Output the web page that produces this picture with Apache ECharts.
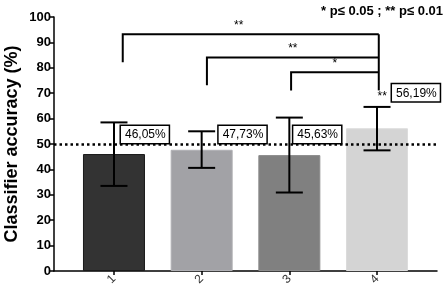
<!DOCTYPE html>
<head>
    <meta charset="utf-8">
    <script type="text/javascript" src="https://cdn.jsdelivr.net/npm/echarts@6/dist/echarts.min.js"></script>
</head>
<body style="margin:0">
	<div id="main" style="width:447px; height:295px"></div>
	<script type="text/javascript">
		var categories = ['1', '2', '3', '4'];
		var accuracy = [46.05, 47.73, 45.63, 56.19];
		var errLow = [33.5, 40.6, 30.9, 47.5];
		var errHigh = [58.5, 55.0, 60.4, 64.6];
		var valueLabels = ['46,05%', '47,73%', '45,63%', '56,19%'];
		var labelBase = [50, 50, 50, 66.4];
		var chance = 50;
		// comparisons: [from, to, bracket height, leg bottom, stars]
		var comparisons = [
			[1, 4, 93.2, 82.2, '**'],
			[2, 4, 84.1, 73.1, '**'],
			[3, 4, 78.2, 71.1, '*']
		];

		var barColors = ['#333333', '#a2a2a6', '#808080', '#d4d4d4'];
		var barBorders = ['#1a1a1a', '#b0b0b4', '#8c8c8c', '#dcdcdc'];
		var labelOffsets = [7, 17, 4, 15];
		var font = '"Liberation Sans", Arial, sans-serif';

		var barData = [], errData = [], labData = [];
		for (var i = 0; i < categories.length; i++) {
			barData.push({value: [i + 1, accuracy[i]], itemStyle: {color: barColors[i], borderColor: barBorders[i], borderWidth: 1}});
			errData.push([i + 1, errLow[i], errHigh[i]]);
			labData.push([i + 1, labelBase[i], i]);
		}

		var myChart = echarts.init(document.getElementById('main'));
		var option = {
			animation: false,
			textStyle: {fontFamily: font},
			grid: {left: 54, right: 10, top: 17, bottom: 24, outerBoundsMode: 'none', containLabel: false},
			graphic: [{
				type: 'text', right: 4, top: 5,
				style: {text: '* p\u2264 0.05 ; ** p\u2264 0.01', font: 'bold 13px ' + font, fill: '#000'}
			}],
			xAxis: {
				type: 'value', min: 0.316, max: 4.684,
				splitLine: {show: false},
				axisLine: {lineStyle: {color: '#000', width: 1.5}},
				axisTick: {show: true, customValues: [1, 2, 3, 4], length: 4, lineStyle: {color: '#000', width: 1.5}},
				axisLabel: {
					customValues: [1, 2, 3, 4], rotate: 45, fontSize: 12, color: '#333', margin: 6,
					formatter: function (v) { return categories[Math.round(v) - 1]; }
				}
			},
			yAxis: {
				type: 'value', min: 0, max: 100, interval: 10,
				name: 'Classifier accuracy (%)', nameLocation: 'middle', nameGap: 33, nameMoveOverlap: false,
				nameTextStyle: {fontSize: 18, fontWeight: 'bold', color: '#000'},
				splitLine: {show: false},
				axisLine: {show: true, lineStyle: {color: '#000', width: 1.5}},
				axisTick: {show: true, length: 4, lineStyle: {color: '#000', width: 1.5}},
				axisLabel: {fontSize: 13, fontWeight: 'bold', color: '#000', margin: 3}
			},
			series: [
				{
					type: 'line', data: [], z: 1,
					markLine: {
						silent: true, symbol: 'none', label: {show: false},
						lineStyle: {color: '#000', width: 2.5, type: [2.5, 3]},
						data: [{yAxis: chance}]
					}
				},
				{
					type: 'bar', data: barData, barWidth: 62, z: 2
				},
				{
					type: 'custom', z: 3, data: errData,
					renderItem: function (params, api) {
						var x = api.value(0);
						var lo = api.coord([x, api.value(1)]);
						var hi = api.coord([x, api.value(2)]);
						var w = 13.5;
						var st = {stroke: '#000', lineWidth: 2};
						return {type: 'group', children: [
							{type: 'line', shape: {x1: lo[0], y1: lo[1], x2: hi[0], y2: hi[1]}, style: st},
							{type: 'line', shape: {x1: lo[0] - w, y1: lo[1], x2: lo[0] + w, y2: lo[1]}, style: st},
							{type: 'line', shape: {x1: hi[0] - w, y1: hi[1], x2: hi[0] + w, y2: hi[1]}, style: st}
						]};
					}
				},
				{
					type: 'custom', z: 4, data: labData,
					renderItem: function (params, api) {
						var idx = api.value(2);
						var p = api.coord([api.value(0), api.value(1)]);
						return {type: 'text', x: p[0] + labelOffsets[idx], y: p[1] - 1,
							style: {text: valueLabels[idx], font: '12px ' + font, fill: '#000',
								verticalAlign: 'bottom', align: 'left',
								backgroundColor: '#fff', borderColor: '#000', borderWidth: 1.5,
								padding: [3, 3, 2, 4]}};
					}
				},
				{
					type: 'custom', z: 5, data: comparisons,
					renderItem: function (params, api) {
						var c = comparisons[params.dataIndex];
						var legX = c[0] + (params.dataIndex === 0 ? 0.1 : (params.dataIndex === 1 ? 0.06 : 0.02));
						var endX = c[1] + 0.02;
						var a = api.coord([legX, c[3]]);
						var b = api.coord([legX, c[2]]);
						var e = api.coord([endX, c[2]]);
						var st = {stroke: '#000', lineWidth: 2, fill: null};
						var children = [
							{type: 'polyline', shape: {points: [a, b, e]}, style: st},
							{type: 'text', x: (b[0] + e[0]) / 2 - (params.dataIndex === 0 ? 12 : 0), y: b[1] - 3,
								style: {text: c[4], font: '12px ' + font, fill: '#000', align: 'center', verticalAlign: 'bottom'}}
						];
						if (params.dataIndex === 0) {
							var bottom = api.coord([endX, 71.1]);
							children.push({type: 'line', shape: {x1: e[0], y1: e[1], x2: bottom[0], y2: bottom[1]}, style: st});
							var s = api.coord([4.06, 66.2]);
							children.push({type: 'text', x: s[0], y: s[1],
								style: {text: '**', font: '12px ' + font, fill: '#000', align: 'center', verticalAlign: 'bottom'}});
						}
						return {type: 'group', children: children};
					}
				}
			]
		};
		myChart.setOption(option);
	</script>
</body>
